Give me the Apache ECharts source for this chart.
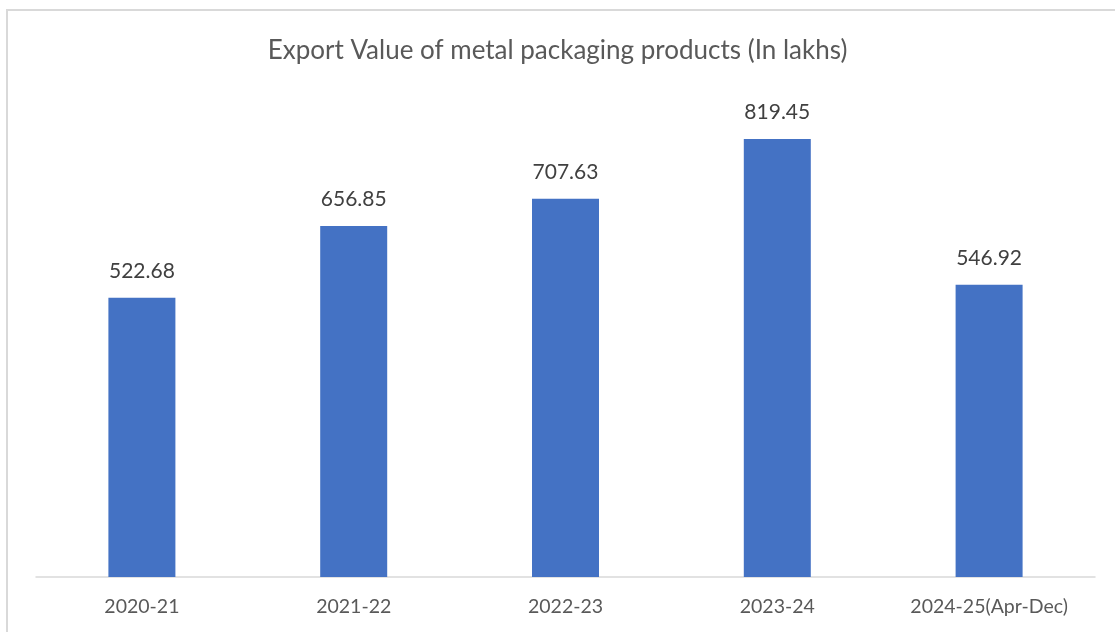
<!DOCTYPE html>
<html><head><meta charset="utf-8">
<script src="https://cdn.jsdelivr.net/npm/echarts@6/dist/echarts.min.js"></script>
<style>html,body{margin:0;padding:0;background:#fff}#c{width:1115px;height:632px}</style>
</head><body><div id="c"></div>
<script>
const categories = ['2020-21','2021-22','2022-23','2023-24','2024-25(Apr-Dec)'];
const values = [522.68, 656.85, 707.63, 819.45, 546.92];
const titleText = 'Export Value of metal packaging products (In lakhs)';
const FONT = 'Lato, "Open Sans", sans-serif';
const chart = echarts.init(document.getElementById('c'), null, {renderer:'canvas'});
chart.setOption({
  animation:false,
  backgroundColor:'#fff',
  graphic:[{type:'rect',shape:{x:7,y:10,width:1130,height:640},style:{fill:'none',stroke:'#d9d9d9',lineWidth:2},silent:true}],
  title:{text:titleText,left:'center',top:33,textStyle:{fontFamily:FONT,fontSize:26,fontWeight:'normal',color:'#595959'}},
  grid:{left:36,right:20,top:96,bottom:55,containLabel:false},
  xAxis:{type:'category',data:categories,axisTick:{show:false},
    axisLine:{lineStyle:{color:'#d9d9d9',width:1.5}},
    axisLabel:{fontFamily:FONT,fontSize:19.5,color:'#595959',margin:20}},
  yAxis:{type:'value',min:0,max:900,show:false,splitLine:{show:false}},
  series:[{type:'bar',data:values,barWidth:67,itemStyle:{color:'#4472c4'},
    label:{show:true,position:'top',distance:16,fontFamily:FONT,fontSize:21,color:'#404040',
      formatter:p=>p.value.toFixed(2)}}]
});
</script></body></html>
